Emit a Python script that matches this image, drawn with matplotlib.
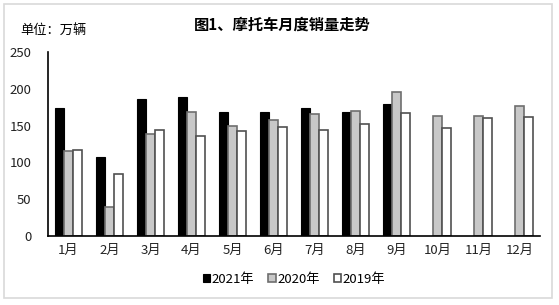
import numpy as np
import matplotlib
matplotlib.use("Agg")
import matplotlib.pyplot as plt
from matplotlib.patches import Rectangle

plt.rcParams['font.family'] = ['Noto Sans CJK SC', 'DejaVu Sans']

months = ["1月", "2月", "3月", "4月", "5月", "6月", "7月", "8月", "9月", "10月", "11月", "12月"]
sales_2021 = [174, 107, 186, 189, 168, 168, 174, 169, 180, np.nan, np.nan, np.nan]
sales_2020 = [116, 40, 138, 168, 149, 158, 166, 170, 196, 163, 163, 176]
sales_2019 = [117, 84, 144, 136, 142, 148, 144, 152, 167, 147, 161, 162]
years = ["2021年", "2020年", "2019年"]

fig = plt.figure(figsize=(5.59, 3.05), dpi=100)
ax = fig.add_axes([48 / 559, 1 - 236 / 305, 492 / 559, 184 / 305])

x = np.arange(len(months))
w = 0.22
ax.bar(x - w, sales_2021, w, color="black", edgecolor="black", linewidth=0.8, label=years[0])
ax.bar(x, sales_2020, w, color="#c8c8c8", edgecolor="#6e6e6e", linewidth=1.2, label=years[1])
ax.bar(x + w, sales_2019, w, color="white", edgecolor="#505050", linewidth=1.2, label=years[2])

ax.set_xlim(-0.5, len(months) - 0.5)
ax.set_ylim(0, 250)
ax.set_yticks([0, 50, 100, 150, 200, 250])
ax.set_xticks(x)
ax.set_xticklabels(months)
ax.tick_params(length=0, labelsize=9.5, colors="#222222")
ax.tick_params(axis="y", pad=12)
ax.tick_params(axis="x", pad=6)
for s in ["top", "right"]:
    ax.spines[s].set_visible(False)
ax.spines["left"].set_linewidth(1.2)
ax.spines["bottom"].set_linewidth(1.2)

fig.text(282 / 559, 1 - 25 / 305, "图1、摩托车月度销量走势", ha="center", va="center",
         fontsize=11, fontweight="bold")
fig.text(20 / 559, 1 - 30 / 305, "单位：万辆", ha="left", va="center", fontsize=9.5)

ax.legend(loc="center", bbox_to_anchor=(0.5, -0.235), ncol=3, frameon=False,
          handlelength=0.55, handleheight=0.55, handletextpad=0.1, columnspacing=1.1,
          fontsize=9.5)

fig.patches.append(Rectangle((4 / 559, 7 / 305), 548 / 559, 294 / 305, transform=fig.transFigure,
                             fill=False, edgecolor="#d9d9d9", linewidth=1.2))

fig.savefig("out.png", dpi=100)
